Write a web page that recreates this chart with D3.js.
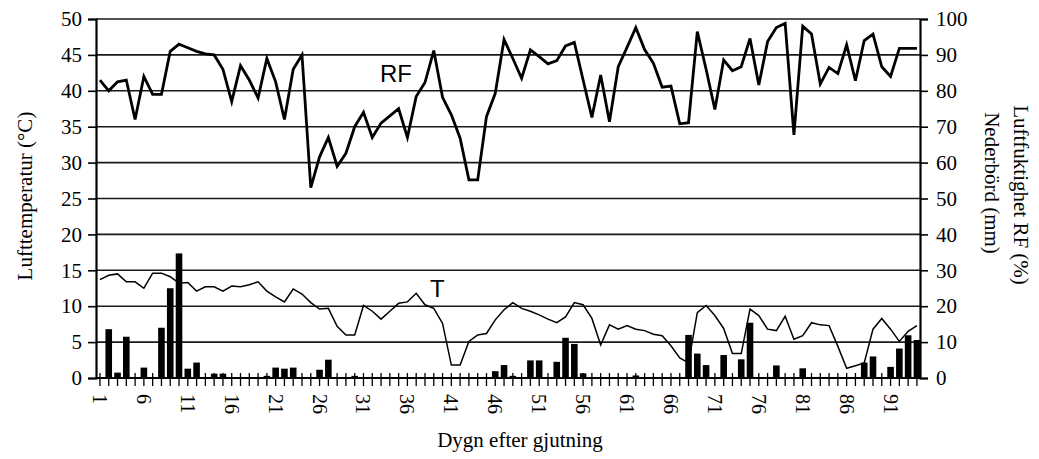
<!DOCTYPE html>
<html><head><meta charset="utf-8">
<script src="https://cdn.jsdelivr.net/npm/d3@7"></script>
<style>body{margin:0;background:#fff}svg{display:block}</style>
</head><body>
<svg id="c" width="1039" height="459"></svg>
<script>
const days = [1,2,3,4,5,6,7,8,9,10,11,12,13,14,15,16,17,18,19,20,21,22,23,24,25,26,27,28,29,30,31,32,33,34,35,36,37,38,39,40,41,42,43,44,45,46,47,48,49,50,51,52,53,54,55,56,57,58,59,60,61,62,63,64,65,66,67,68,69,70,71,72,73,74,75,76,77,78,79,80,81,82,83,84,85,86,87,88,89,90,91,92,93,94];
const rf = [83,80,82.5,83,72,84,79,79,91,93,92,91,90.3,90,86,77,87,83,78,89,82.5,72,86,90,53,61.6,67,59,62.6,70,74,67,71,73,75,67,78.4,82.3,91.2,78.2,73.3,66.8,55.2,55.2,72.8,79.3,94.3,89,83.5,91.4,89.5,87.5,88.4,92.5,93.5,83,72.6,84.4,71.4,86.7,92.1,97.6,91.5,87.7,81,81.3,70.8,71.1,96.5,86,74.8,88.6,85.6,86.7,94.6,81.6,93.7,97.6,98.8,67.7,98,95.8,81.9,86.5,84.8,92.8,82.8,94,95.8,86.7,84,91.8,91.8,91.8];
const temp = [13.7,14.3,14.5,13.4,13.4,12.5,14.6,14.6,14.1,13.2,13.3,12.1,12.7,12.7,12.1,12.8,12.7,13,13.4,12.1,11.3,10.6,12.4,11.7,10.5,9.6,9.7,7.2,6.0,6.0,10.1,9.3,8.2,9.3,10.4,10.6,11.8,10.2,9.7,7.6,1.8,1.8,5.1,6.0,6.2,8.1,9.5,10.5,9.7,9.3,8.8,8.2,7.7,8.5,10.5,10.2,8.3,4.6,7.4,6.8,7.3,6.8,6.6,6.1,5.9,4.5,2.8,2.1,9.1,10.1,8.7,6.9,3.4,3.4,9.6,8.7,6.8,6.6,8.6,5.4,5.9,7.7,7.4,7.3,4.4,1.35,1.7,2.1,6.8,8.3,6.8,5.1,6.5,7.3];
const precip = [0,13.6,1.5,11.5,0,2.9,0,14,25,34.7,2.6,4.3,0,1.2,1.2,0,0,0,0,0.6,2.9,2.6,2.9,0,0,2.3,5.1,0,0,0.6,0,0,0,0,0,0,0,0,0,0,0,0,0,0,0,1.9,3.6,0.6,0,4.9,4.9,0,4.5,11.2,9.5,1.3,0,0,0,0,0,0.7,0,0,0,0,0,12,6.8,3.6,0,6.4,0,5.2,15.4,0,0,3.5,0,0,2.7,0,0,0,0,0,0,4.3,6,0,3.1,8.2,11.9,10.6];
const leftTicks = [0,5,10,15,20,25,30,35,40,45,50];
const rightTicks = [0,10,20,30,40,50,60,70,80,90,100];
const xLabels = [1,6,11,16,21,26,31,36,41,46,51,56,61,66,71,76,81,86,91];

const svg = d3.select("#c");
const L = 96, R = 920, T0 = 19, B = 378;
const x = d3.scaleLinear().domain([0.55, 94.35]).range([L, R]);
const yL = d3.scaleLinear().domain([0, 50]).range([B, T0]);
const yR = d3.scaleLinear().domain([0, 100]).range([B, T0]);
const serif = "'Liberation Serif','Times New Roman',serif";
const sans = "'Liberation Sans',Arial,sans-serif";

// gridlines
svg.append("g").selectAll("line").data(leftTicks.filter(d => d > 0)).join("line")
  .attr("x1", L).attr("x2", R).attr("y1", d => yL(d)).attr("y2", d => yL(d))
  .attr("stroke", "#1a1a1a").attr("stroke-width", 1.6);

// bars
const bw = 6.6;
svg.append("g").selectAll("rect").data(days.map((d, i) => ({d, v: precip[i]})).filter(o => o.v > 0)).join("rect")
  .attr("x", o => x(o.d) - bw / 2).attr("width", bw)
  .attr("y", o => yR(o.v)).attr("height", o => B - yR(o.v))
  .attr("fill", "#000");

// T line
svg.append("path").datum(days.map((d, i) => [d, temp[i]]))
  .attr("fill", "none").attr("stroke", "#000").attr("stroke-width", 1.5)
  .attr("d", d3.line().x(p => x(p[0])).y(p => yL(p[1])));

// RF line
svg.append("path").datum(days.map((d, i) => [d, rf[i]]))
  .attr("fill", "none").attr("stroke", "#000").attr("stroke-width", 2.8).attr("stroke-linejoin", "miter")
  .attr("d", d3.line().x(p => x(p[0])).y(p => yR(p[1])));

// Left axis
const gl = svg.append("g").attr("transform", `translate(${L},0)`)
  .call(d3.axisLeft(yL).tickValues(leftTicks).tickSize(8).tickPadding(6).tickFormat(d3.format("d")));
gl.select(".domain").attr("stroke-width", 2.2);
gl.selectAll(".tick line").attr("stroke-width", 1.6);
gl.selectAll("text").attr("font-family", serif).attr("font-size", 21).attr("fill", "#000");

// Right axis
const gr = svg.append("g").attr("transform", `translate(${R},0)`)
  .call(d3.axisRight(yR).tickValues(rightTicks).tickSize(8).tickPadding(8).tickFormat(d3.format("d")));
gr.select(".domain").attr("stroke-width", 2.2);
gr.selectAll(".tick line").attr("stroke-width", 1.6);
gr.selectAll("text").attr("font-family", serif).attr("font-size", 21).attr("fill", "#000");

// Bottom axis: line + ticks for each day
svg.append("line").attr("x1", L).attr("x2", R).attr("y1", B).attr("y2", B)
  .attr("stroke", "#000").attr("stroke-width", 2.2);
svg.append("g").selectAll("line").data(days).join("line")
  .attr("x1", d => x(d)).attr("x2", d => x(d)).attr("y1", B - 5).attr("y2", B + 8)
  .attr("stroke", "#000").attr("stroke-width", 1.3);
svg.append("g").selectAll("text").data(xLabels).join("text")
  .attr("transform", d => `translate(${x(d)},${B + 16}) rotate(90)`)
  .attr("dy", "0.35em").attr("text-anchor", "start")
  .attr("font-family", serif).attr("font-size", 20).text(d => d);

// Titles
svg.append("text").attr("x", 520).attr("y", 447).attr("text-anchor", "middle")
  .attr("font-family", serif).attr("font-size", 21).text("Dygn efter gjutning");
svg.append("text").attr("transform", "translate(32,196) rotate(-90)").attr("text-anchor", "middle")
  .attr("font-family", serif).attr("font-size", 21).text("Lufttemperatur (°C)");
svg.append("text").attr("transform", "translate(1014,195) rotate(90)").attr("text-anchor", "middle")
  .attr("font-family", serif).attr("font-size", 21).text("Luftfuktighet RF (%)");
svg.append("text").attr("transform", "translate(985,183) rotate(90)").attr("text-anchor", "middle")
  .attr("font-family", serif).attr("font-size", 21).text("Nederbörd (mm)");

// Series labels
svg.append("text").attr("x", 380).attr("y", 82).attr("font-family", sans).attr("font-size", 24).text("RF");
svg.append("text").attr("x", 430).attr("y", 297).attr("font-family", sans).attr("font-size", 24).text("T");
</script>
</body></html>
